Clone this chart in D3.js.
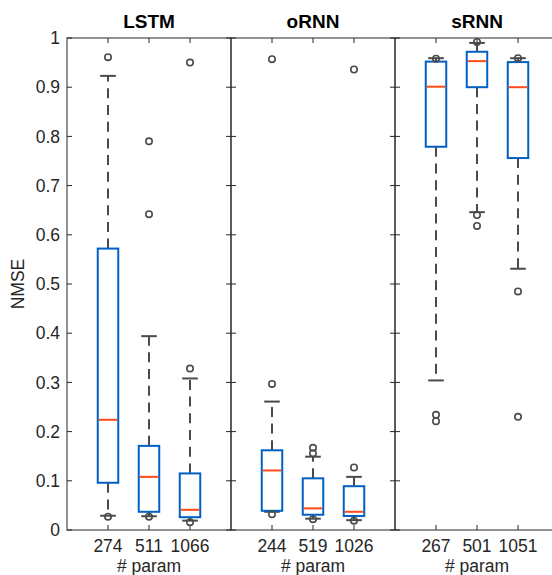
<!DOCTYPE html>
<html>
<head>
<meta charset="utf-8">
<script src="https://cdn.jsdelivr.net/npm/d3@7"></script>
<style>
  body { margin: 0; background: #fff; }
  svg { display: block; font-family: "Liberation Sans", Arial, sans-serif; }
</style>
</head>
<body>
<svg width="552" height="575"></svg>
<script>
var panels = ["LSTM", "oRNN", "sRNN"];
var params = [["274", "511", "1066"], ["244", "519", "1026"], ["267", "501", "1051"]];

// box statistics per panel, one entry per param count
var q1  = [[0.096, 0.037, 0.026], [0.039, 0.031, 0.0285], [0.779, 0.900, 0.756]];
var med = [[0.224, 0.108, 0.041], [0.121, 0.044, 0.037], [0.901, 0.953, 0.900]];
var q3  = [[0.572, 0.171, 0.115], [0.162, 0.105, 0.089], [0.952, 0.972, 0.951]];
var lo  = [[0.029, 0.028, 0.019], [0.037, 0.023, 0.020], [0.304, 0.646, 0.531]];
var hi  = [[0.923, 0.394, 0.308], [0.261, 0.149, 0.108], [0.959, 0.990, 0.959]];
var outliers = [
  [[0.961, 0.027], [0.790, 0.642, 0.027], [0.950, 0.328, 0.016]],
  [[0.957, 0.297, 0.032], [0.167, 0.156, 0.022], [0.936, 0.127, 0.019]],
  [[0.958, 0.234, 0.221], [0.992, 0.640, 0.618], [0.959, 0.485, 0.230]]
];
var yTicks = d3.range(0, 11).map(function(i) { return i / 10; });

var svg = d3.select("svg");
var plotTop = 38, plotBottom = 530, plotLeft = 67, pw = 164;
var axisColor = "#262626";

var y = d3.scaleLinear().domain([0, 1]).range([plotBottom, plotTop]);

panels.forEach(function(name, p) {
  var x0 = plotLeft + p * pw;
  var x = d3.scaleLinear().domain([0, 4]).range([x0, x0 + pw]);
  var g = svg.append("g");

  // y ticks, inward on both sides
  yTicks.forEach(function(t) {
    g.append("line").attr("x1", x0).attr("x2", x0 + 5)
      .attr("y1", y(t)).attr("y2", y(t)).attr("stroke", axisColor);
    g.append("line").attr("x1", x0 + pw - 5).attr("x2", x0 + pw)
      .attr("y1", y(t)).attr("y2", y(t)).attr("stroke", axisColor);
  });
  // x ticks top and bottom
  [1, 2, 3].forEach(function(k) {
    g.append("line").attr("x1", x(k)).attr("x2", x(k))
      .attr("y1", plotTop).attr("y2", plotTop + 5).attr("stroke", axisColor);
    g.append("line").attr("x1", x(k)).attr("x2", x(k))
      .attr("y1", plotBottom).attr("y2", plotBottom - 5).attr("stroke", axisColor);
  });

  g.append("rect").attr("x", x0).attr("y", plotTop)
    .attr("width", pw).attr("height", plotBottom - plotTop)
    .attr("fill", "none").attr("stroke", axisColor).attr("stroke-width", 1);

  var boxW = x(0.5) - x(0), capW = x(0.38) - x(0);

  params[p].forEach(function(lab, i) {
    var cx = x(i + 1);
    // whiskers
    g.append("line").attr("x1", cx).attr("x2", cx)
      .attr("y1", y(q3[p][i])).attr("y2", y(hi[p][i]))
      .attr("stroke", "#4a4a4a").attr("stroke-width", 2).attr("stroke-dasharray", "10,6.7");
    g.append("line").attr("x1", cx).attr("x2", cx)
      .attr("y1", y(q1[p][i])).attr("y2", y(lo[p][i]))
      .attr("stroke", "#4a4a4a").attr("stroke-width", 2).attr("stroke-dasharray", "10,6.7");
    [hi[p][i], lo[p][i]].forEach(function(v) {
      g.append("line").attr("x1", cx - capW / 2).attr("x2", cx + capW / 2)
        .attr("y1", y(v)).attr("y2", y(v))
        .attr("stroke", "#4a4a4a").attr("stroke-width", 2);
    });
    // box
    g.append("rect").attr("x", cx - boxW / 2).attr("y", y(q3[p][i]))
      .attr("width", boxW).attr("height", y(q1[p][i]) - y(q3[p][i]))
      .attr("fill", "none").attr("stroke", "#0060c4").attr("stroke-width", 2);
    g.append("line").attr("x1", cx - boxW / 2 + 1).attr("x2", cx + boxW / 2 - 1)
      .attr("y1", y(med[p][i])).attr("y2", y(med[p][i]))
      .attr("stroke", "#ff4a1a").attr("stroke-width", 2);
    // outliers
    outliers[p][i].forEach(function(v) {
      g.append("circle").attr("cx", cx).attr("cy", y(v)).attr("r", 3.2)
        .attr("fill", "none").attr("stroke", "#4a4a4a").attr("stroke-width", 1.6);
    });
    g.append("text").attr("x", cx).attr("y", 552)
      .attr("text-anchor", "middle").attr("font-size", 17.5)
      .attr("fill", axisColor).text(lab);
  });

  g.append("text").attr("x", x(2)).attr("y", 28)
    .attr("text-anchor", "middle").attr("font-size", 19).attr("font-weight", "bold")
    .attr("fill", "#000").text(name);
  g.append("text").attr("x", x(2)).attr("y", 572)
    .attr("text-anchor", "middle").attr("font-size", 17.5)
    .attr("fill", axisColor).text("# param");
});

// y tick labels on the first panel only
svg.append("g").selectAll("text")
  .data(yTicks)
  .enter().append("text")
    .attr("x", plotLeft - 7)
    .attr("y", function(d) { return y(d); })
    .attr("dy", "0.35em")
    .attr("text-anchor", "end")
    .attr("font-size", 17.5)
    .attr("fill", axisColor)
    .text(function(d) { return d === 0 ? "0" : d === 1 ? "1" : d3.format(".1f")(d); });

svg.append("text")
  .attr("transform", "translate(24," + ((plotTop + plotBottom) / 2) + ") rotate(-90)")
  .attr("text-anchor", "middle")
  .attr("font-size", 17.5)
  .attr("fill", axisColor)
  .text("NMSE");
</script>
</body>
</html>
